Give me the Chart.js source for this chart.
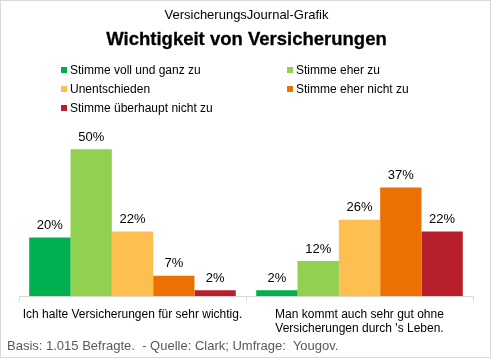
<!DOCTYPE html>
<html>
<head>
<meta charset="utf-8">
<script src="https://cdn.jsdelivr.net/npm/chart.js@4/dist/chart.umd.min.js"></script>
<style>
  body { margin: 0; background: #fff; font-family: "Liberation Sans", Arial, sans-serif; }
  #wrap { position: relative; width: 491px; height: 358px; box-sizing: border-box; border: 1px solid #d9d9d9; overflow: hidden; }
  #chart { position: absolute; left: -1px; top: -1px; }
  .txt { position: absolute; white-space: nowrap; color: #000; }
  .sub { left: 0; width: 491px; text-align: center; top: 6px; font-size: 13px; }
  .title { left: 0; width: 491px; text-align: center; top: 27px; font-size: 18.5px; font-weight: bold; -webkit-text-stroke: 0.3px #000; }
  .leg { font-size: 12px; }
  .leg i { position: absolute; left: -9px; top: 4px; width: 6px; height: 6px; }
  .foot { left: 6px; top: 337px; font-size: 13px; color: #595959; }
</style>
</head>
<body>
<div id="wrap">
  <canvas id="chart" width="491" height="358"></canvas>
  <div class="txt sub">VersicherungsJournal-Grafik</div>
  <div class="txt title">Wichtigkeit von Versicherungen</div>
  <div id="legend"></div>
  <div class="txt foot">Basis: 1.015 Befragte.&nbsp; - Quelle: Clark; Umfrage:&nbsp; Yougov.</div>
</div>
<script>
// categories and answers
const categories = [
  'Ich halte Versicherungen für sehr wichtig.',
  ['Man kommt auch sehr gut ohne', "Versicherungen durch 's Leben."]
];
const answers = [
  'Stimme voll und ganz zu',
  'Stimme eher zu',
  'Unentschieden',
  'Stimme eher nicht zu',
  'Stimme überhaupt nicht zu'
];
const colors = ['#00b050', '#92d050', '#fdbf50', '#eb7103', '#b61f2b'];

// values in percent, one array per answer
const vollUndGanz = [20, 2];
const eherZu = [50, 12];
const unentschieden = [22, 26];
const eherNicht = [7, 37];
const ueberhauptNicht = [2, 22];
const seriesValues = [vollUndGanz, eherZu, unentschieden, eherNicht, ueberhauptNicht];

// html legend, two columns
const legendPos = [[69, 62], [295, 62], [69, 81], [295, 81], [69, 100]];
const legendEl = document.getElementById('legend');
answers.forEach((a, i) => {
  const d = document.createElement('div');
  d.className = 'txt leg';
  d.style.left = legendPos[i][0] + 'px';
  d.style.top = legendPos[i][1] + 'px';
  d.innerHTML = '<i style="background:' + colors[i] + '"></i>' + a;
  legendEl.appendChild(d);
});

// value labels above bars
const valueLabels = {
  id: 'valueLabels',
  afterDatasetsDraw(chart) {
    const ctx = chart.ctx;
    ctx.save();
    ctx.font = '13px "Liberation Sans", Arial, sans-serif';
    ctx.fillStyle = '#000';
    ctx.textAlign = 'center';
    ctx.textBaseline = 'middle';
    chart.data.datasets.forEach((ds, i) => {
      chart.getDatasetMeta(i).data.forEach((bar, j) => {
        ctx.fillText(ds.data[j] + '%', bar.x, bar.y - 12);
      });
    });
    ctx.restore();
  }
};

new Chart(document.getElementById('chart'), {
  type: 'bar',
  data: {
    labels: categories,
    datasets: answers.map((a, i) => ({
      label: a,
      data: seriesValues[i],
      backgroundColor: colors[i],
      barPercentage: 1,
      categoryPercentage: 0.91
    }))
  },
  options: {
    responsive: false,
    animation: false,
    layout: { padding: { left: 19, right: 18, top: 120, bottom: 16 } },
    plugins: { legend: { display: false }, tooltip: { enabled: false } },
    scales: {
      y: { display: false, min: 0, max: 60 },
      x: {
        grid: { drawOnChartArea: false, color: '#d9d9d9', tickLength: 5 },
        border: { color: '#d9d9d9' },
        ticks: {
          color: '#000',
          font: { family: '"Liberation Sans", Arial, sans-serif', size: 12 },
          maxRotation: 0,
          autoSkip: false,
          padding: 6
        }
      }
    }
  },
  plugins: [valueLabels]
});
</script>
</body>
</html>
